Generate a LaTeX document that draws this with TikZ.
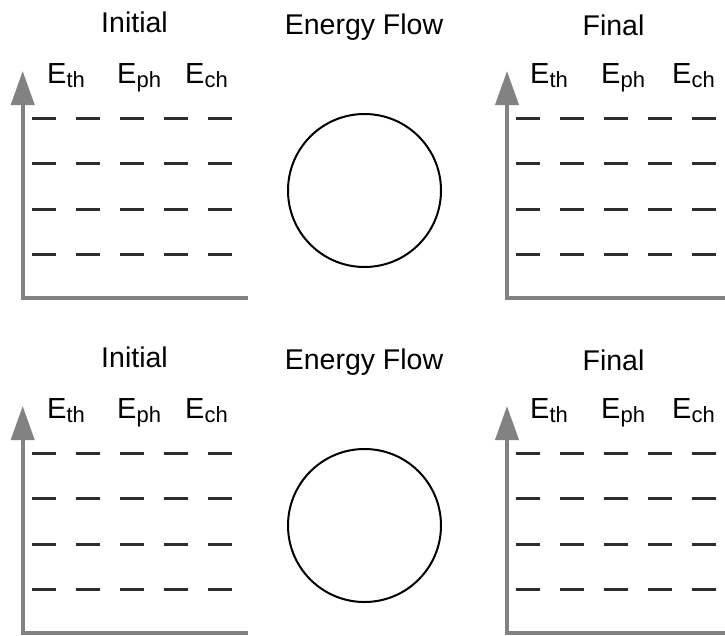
\documentclass[tikz,border=0pt]{standalone}
\usepackage{fontspec}
\setmainfont{Liberation Sans}
\usetikzlibrary{arrows.meta}
\definecolor{axisgray}{RGB}{130,130,130}
\definecolor{levelink}{RGB}{45,45,45}
% energy symbol with a lowered, smaller subscript
\newcommand{\Esub}[1]{{\fontsize{29}{34}\selectfont E}\raisebox{-4pt}{\fontsize{22}{26}\selectfont #1}}
\begin{document}
\begin{tikzpicture}[x=1pt,y=-1pt,
  lbl/.style={font=\fontsize{28.5}{34}\selectfont, inner sep=0pt, anchor=base},
  axis/.style={draw=axisgray, line width=4pt, -{Triangle[length=34pt,width=23pt]}},
  level/.style={draw=levelink, line width=3pt, dash pattern=on 24pt off 20pt},
  flow/.style={draw=black, line width=2pt, circle, minimum size=153pt, inner sep=0pt}]
\useasboundingbox (0,0) rectangle (725,635);
\foreach \r/\dy in {a/0,b/335}{
  \begin{scope}[yshift=-\dy pt]
    % titles
    \node[lbl] (init\r) at (134.5,32) {Initial};
    \node[lbl] (flowtitle\r) at (364,34) {Energy Flow};
    \node[lbl] (final\r) at (613.5,35) {Final};
    % column labels, initial state
    \node[lbl,anchor=base west] (ith\r) at (47,83) {\Esub{th}};
    \node[lbl,anchor=base west] (iph\r) at (117,83) {\Esub{ph}};
    \node[lbl,anchor=base west] (ich\r) at (185,83) {\Esub{ch}};
    % column labels, final state
    \node[lbl,anchor=base west] (fth\r) at (530,83) {\Esub{th}};
    \node[lbl,anchor=base west] (fph\r) at (601,83) {\Esub{ph}};
    \node[lbl,anchor=base west] (fch\r) at (672,83) {\Esub{ch}};
    % axes
    \coordinate (iorigin\r) at (22.7,297.5);
    \coordinate (forigin\r) at (507,297.5);
    \draw[axis] (248,297.5) -- (iorigin\r) -- (22.7,71);
    \draw[axis] (725,297.5) -- (forigin\r) -- (507,71);
    % dashed energy levels
    \foreach \ly in {118.5,163.5,209.5,254.5}{
      \draw[level] (32,\ly) -- (232,\ly);
      \draw[level] (516,\ly) -- (716,\ly);
    }
    % energy flow circle
    \node[flow] (pool\r) at (364.5,190.5) {};
  \end{scope}
}
\end{tikzpicture}
\end{document}
